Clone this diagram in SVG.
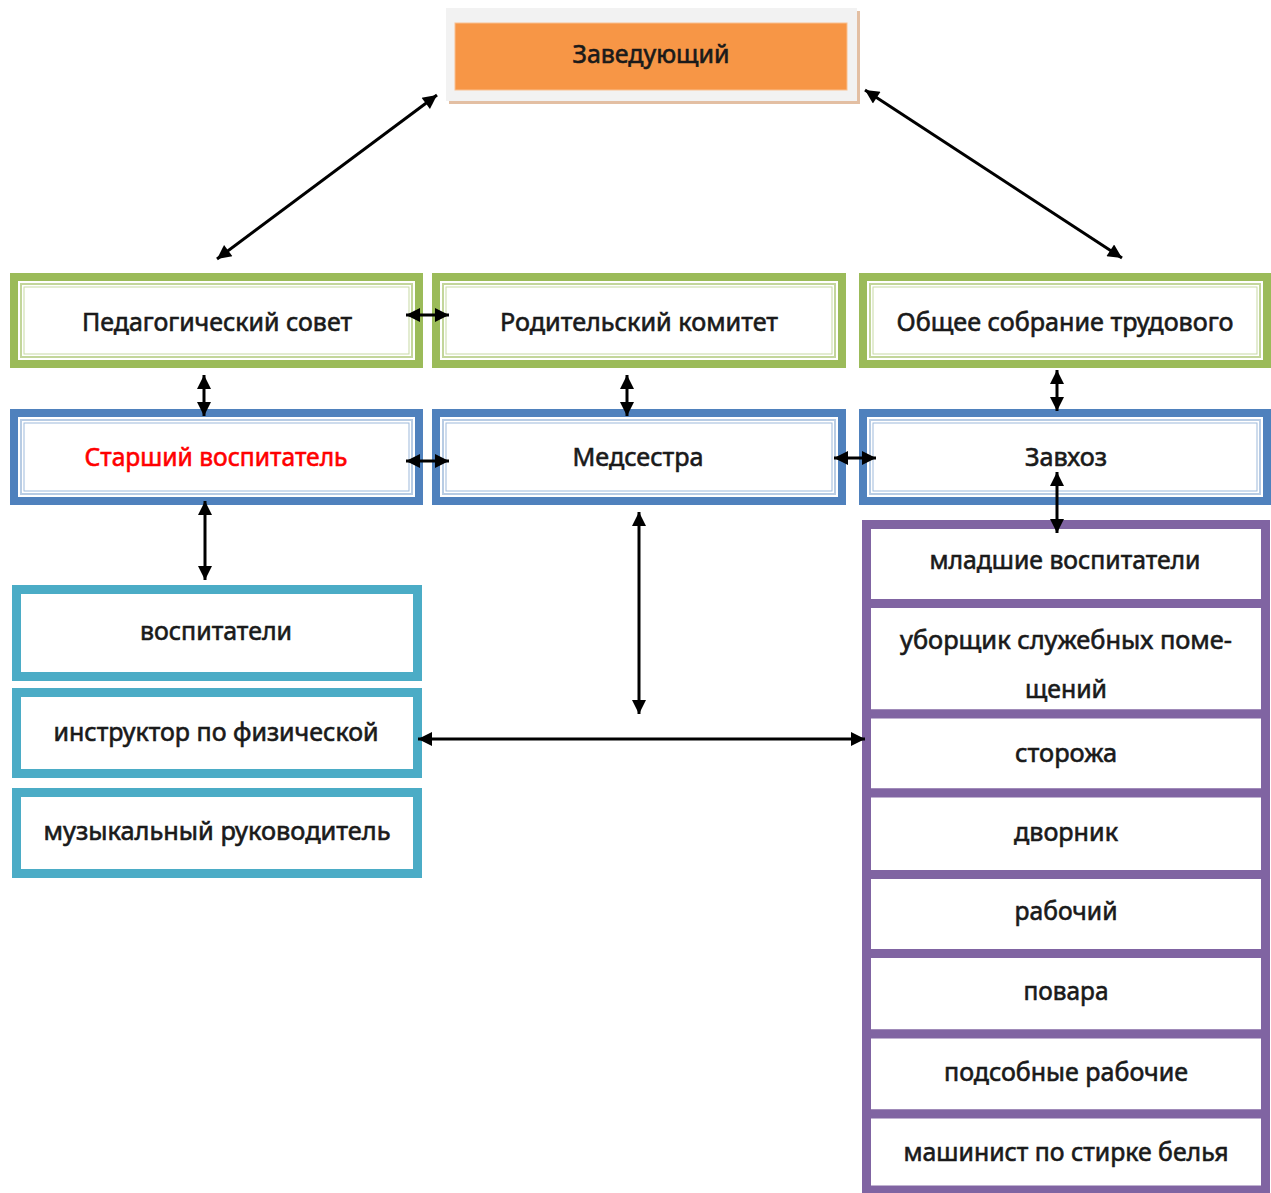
<svg xmlns="http://www.w3.org/2000/svg" width="1271" height="1193" viewBox="0 0 1271 1193">
<defs>
<style>
.t{font-family:"Noto Sans","Open Sans","Liberation Sans",sans-serif;font-size:25px;fill:#1a1a1a;stroke:#1a1a1a;stroke-width:0.6;text-anchor:middle}
.g{fill:#fff;stroke:#9BBB59;stroke-width:8}
.gl1{fill:none;stroke:#C3D69B;stroke-width:2}
.gl2{fill:none;stroke:#9BBB59;stroke-width:1;stroke-opacity:.55}
.b{fill:#fff;stroke:#4F81BD;stroke-width:8}
.bl1{fill:none;stroke:#B8CCE4;stroke-width:2}
.bl2{fill:none;stroke:#4F81BD;stroke-width:1;stroke-opacity:.55}
.c{fill:#fff;stroke:#4BACC6;stroke-width:9}
.p{fill:#fff;stroke:#8064A2;stroke-width:9}
.con{stroke:#000;stroke-width:3;fill:none;marker-start:url(#ah);marker-end:url(#ah)}
</style>
<marker id="ah" viewBox="0 0 10 10" refX="10" refY="5" markerWidth="16" markerHeight="14" markerUnits="userSpaceOnUse" orient="auto-start-reverse">
<path d="M0,0 L10,5 L0,10 z" fill="#000"/>
</marker>
</defs>
<rect width="1271" height="1193" fill="#fff"/>

<g id="zaveduyushchiy">
<rect x="449" y="11" width="411" height="93" fill="#E3BFA3"/>
<rect x="446" y="8" width="411" height="93" fill="#F2F2F2"/>
<rect x="455" y="23" width="392" height="67" fill="#F79646" stroke="#FAC08F" stroke-width="1"/>
<text class="t" x="651" y="63" textLength="157" lengthAdjust="spacingAndGlyphs">Заведующий</text>
</g>

<g id="ped-sovet">
<rect class="g" x="14" y="277" width="405" height="87"/>
<rect class="gl1" x="21" y="284" width="391" height="73"/>
<rect class="gl2" x="24" y="287" width="385" height="67"/>
<text class="t" x="217" y="331" textLength="270" lengthAdjust="spacingAndGlyphs">Педагогический совет</text>
</g>
<g id="rod-komitet">
<rect class="g" x="436" y="277" width="406" height="87"/>
<rect class="gl1" x="443" y="284" width="392" height="73"/>
<rect class="gl2" x="446" y="287" width="386" height="67"/>
<text class="t" x="639" y="331" textLength="278" lengthAdjust="spacingAndGlyphs">Родительский комитет</text>
</g>
<g id="obshchee-sobranie">
<rect class="g" x="863" y="277" width="404" height="87"/>
<rect class="gl1" x="870" y="284" width="390" height="73"/>
<rect class="gl2" x="873" y="287" width="384" height="67"/>
<text class="t" x="1065" y="331" textLength="337" lengthAdjust="spacingAndGlyphs">Общее собрание трудового</text>
</g>

<g id="starshiy-vospitatel">
<rect class="b" x="14" y="413" width="405" height="88"/>
<rect class="bl1" x="21" y="420" width="391" height="74"/>
<rect class="bl2" x="24" y="423" width="385" height="68"/>
<text class="t" x="216" y="466" textLength="263" lengthAdjust="spacingAndGlyphs" style="fill:#FF0000;stroke:#FF0000">Старший воспитатель</text>
</g>
<g id="medsestra">
<rect class="b" x="436" y="413" width="406" height="88"/>
<rect class="bl1" x="443" y="420" width="392" height="74"/>
<rect class="bl2" x="446" y="423" width="386" height="68"/>
<text class="t" x="638" y="466" textLength="131" lengthAdjust="spacingAndGlyphs">Медсестра</text>
</g>
<g id="zavkhoz">
<rect class="b" x="863" y="413" width="404" height="88"/>
<rect class="bl1" x="870" y="420" width="390" height="74"/>
<rect class="bl2" x="873" y="423" width="384" height="68"/>
<text class="t" x="1066" y="466" textLength="82" lengthAdjust="spacingAndGlyphs">Завхоз</text>
</g>

<g id="vospitateli">
<rect class="c" x="16.5" y="589.5" width="401" height="87"/>
<text class="t" x="216" y="640" textLength="152" lengthAdjust="spacingAndGlyphs">воспитатели</text>
</g>
<g id="instruktor">
<rect class="c" x="16.5" y="692.5" width="401" height="81"/>
<text class="t" x="216" y="741" textLength="325" lengthAdjust="spacingAndGlyphs">инструктор по физической</text>
</g>
<g id="muz-rukovoditel">
<rect class="c" x="16.5" y="792.5" width="401" height="81"/>
<text class="t" x="217" y="840" textLength="347" lengthAdjust="spacingAndGlyphs">музыкальный руководитель</text>
</g>

<g id="mladshie-vospitateli">
<rect class="p" x="866.5" y="524.5" width="399" height="79"/>
<text class="t" x="1065" y="569" textLength="271" lengthAdjust="spacingAndGlyphs">младшие воспитатели</text>
</g>
<g id="uborshchik">
<rect class="p" x="866.5" y="603.5" width="399" height="110.5"/>
<text class="t" x="1066" y="649" textLength="332" lengthAdjust="spacingAndGlyphs">уборщик служебных поме-</text>
<text class="t" x="1066" y="698" textLength="82" lengthAdjust="spacingAndGlyphs">щений</text>
</g>
<g id="storozha">
<rect class="p" x="866.5" y="714" width="399" height="79"/>
<text class="t" x="1066" y="762" textLength="102" lengthAdjust="spacingAndGlyphs">сторожа</text>
</g>
<g id="dvornik">
<rect class="p" x="866.5" y="793" width="399" height="81.5"/>
<text class="t" x="1066" y="841" textLength="104" lengthAdjust="spacingAndGlyphs">дворник</text>
</g>
<g id="rabochiy">
<rect class="p" x="866.5" y="874.5" width="399" height="79"/>
<text class="t" x="1066" y="920" textLength="103" lengthAdjust="spacingAndGlyphs">рабочий</text>
</g>
<g id="povara">
<rect class="p" x="866.5" y="953.5" width="399" height="80.5"/>
<text class="t" x="1066" y="1000" textLength="85" lengthAdjust="spacingAndGlyphs">повара</text>
</g>
<g id="podsobnye">
<rect class="p" x="866.5" y="1034" width="399" height="80"/>
<text class="t" x="1066" y="1081" textLength="244" lengthAdjust="spacingAndGlyphs">подсобные рабочие</text>
</g>
<g id="mashinist">
<rect class="p" x="866.5" y="1114" width="399" height="76"/>
<text class="t" x="1066" y="1161" textLength="325" lengthAdjust="spacingAndGlyphs">машинист по стирке белья</text>
</g>

<g id="connectors">
<line class="con" x1="437" y1="95" x2="217" y2="259"/>
<line class="con" x1="865" y1="90" x2="1122" y2="258"/>
<line class="con" x1="406" y1="315" x2="449" y2="315"/>
<line class="con" x1="204" y1="375" x2="204" y2="416"/>
<line class="con" x1="627" y1="375" x2="627" y2="416"/>
<line class="con" x1="1057" y1="370" x2="1057" y2="411"/>
<line class="con" x1="406" y1="461" x2="449" y2="461"/>
<line class="con" x1="834" y1="458" x2="876" y2="458"/>
<line class="con" x1="1057" y1="472" x2="1057" y2="533"/>
<line class="con" x1="205" y1="501" x2="205" y2="580"/>
<line class="con" x1="639" y1="512" x2="639" y2="714"/>
<line class="con" x1="418" y1="739" x2="865" y2="739"/>
</g>
</svg>
